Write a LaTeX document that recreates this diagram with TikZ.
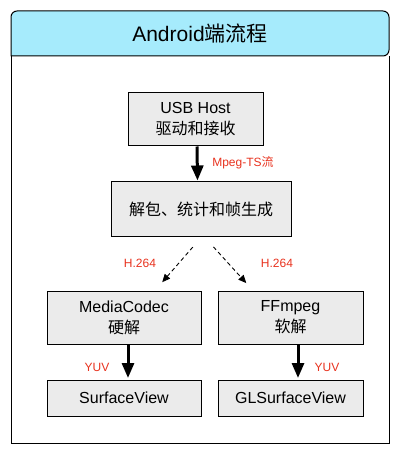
\documentclass[tikz,border=0pt]{standalone}
\usepackage{fontspec}
\setmainfont{Liberation Sans}
\newfontfamily\cjk{Noto Sans CJK SC}
\usetikzlibrary{arrows.meta,calc}

\definecolor{headcyan}{HTML}{A6EBFC}
\definecolor{boxgray}{HTML}{EBEBEB}
\definecolor{labelred}{HTML}{E8321E}

\tikzset{
  box/.style={draw=black,fill=boxgray,line width=1pt,align=center,
    font=\fontsize{16}{21}\selectfont,inner sep=0pt},
  lbl/.style={text=labelred,font=\fontsize{12}{14}\selectfont,inner sep=0pt},
  bigarrow/.style={line width=3pt,-{Triangle[length=15pt,width=12pt]}},
  dasharrow/.style={line width=0.9pt,dash pattern=on 4pt off 3pt,
    -{Triangle[length=8pt,width=7pt]}}
}

\begin{document}
\begin{tikzpicture}[x=1pt,y=-1pt]
       \useasboundingbox (0,0) rectangle (400,454);
       % Draw the frame and its header
       \draw[line width=1pt] (11,56) |- (389,443) -- (389,56);
       \draw[line width=1pt,fill=headcyan,rounded corners=6pt]
         (11,56) -- (11,11) -- (389,11) -- (389,56) [sharp corners] -- cycle;
       \node (title) [font=\fontsize{21}{24}\selectfont] at (200,33.5) {Android{\cjk 端流程}};

       % Draw the boxes
       \node (usb) [box,minimum width=135pt,minimum height=53pt] at (195.5,119.5) {USB Host\\{\cjk 驱动和接收}};
       \node (dec) [box,minimum width=180pt,minimum height=54pt] at (201,209) {\cjk 解包、统计和帧生成};
       \node (mc) [box,minimum width=154pt,minimum height=53pt] at (124,317.5) {MediaCodec\\{\cjk 硬解}};
       \node (ff) [box,minimum width=145pt,minimum height=53pt] at (290.5,317.5) {FFmpeg\\{\cjk 软解}};
       \node (sv) [box,minimum width=154pt,minimum height=36pt] at (124,398) {SurfaceView};
       \node (gl) [box,minimum width=145pt,minimum height=36pt] at (290.5,398) {GLSurfaceView};

       % Draw the arrows
       \draw[bigarrow] ($(usb.south)+(1.5,0)$) -- ($(dec.north)+(-3.5,-1)$);
       \draw[dasharrow,shorten <=14pt,shorten >=11pt] ($(dec.south)+(1,0)$) -- ($(mc.north)+(31,0)$);
       \draw[dasharrow,shorten <=14pt,shorten >=10pt] ($(dec.south)+(3,0)$) -- ($(ff.north)+(-37.5,0)$);
       \draw[bigarrow] ($(mc.south)+(4,0)$) -- ($(sv.north)+(4,-1.5)$);
       \draw[bigarrow] ($(ff.south)+(7.5,0)$) -- ($(gl.north)+(7.5,-1.5)$);

       % Labels
       \node (ts) [lbl] at (243,163) {Mpeg-TS{\cjk 流}};
       \node (h1) [lbl] at (140,263) {H.264};
       \node (h2) [lbl] at (277,263) {H.264};
       \node (y1) [lbl] at (97,367) {YUV};
       \node (y2) [lbl] at (327,367) {YUV};
\end{tikzpicture}
\end{document}
